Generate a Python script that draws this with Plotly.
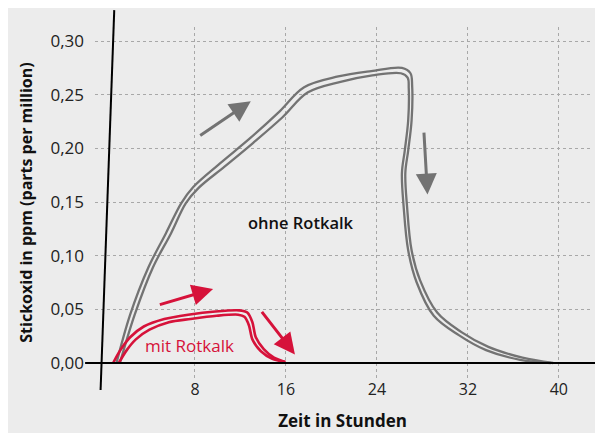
import plotly.graph_objects as go

# --- data (hours, ppm) ---
tick_hours = [8, 16, 24, 32, 40]
tick_ppm = [0.0, 0.05, 0.10, 0.15, 0.20, 0.25, 0.30]

ohne_t_a = [1.1, 2.3, 3.9, 5.45, 6.8, 7.85, 10.2, 12.8, 15.4, 17.6, 20.6, 23.5, 26.2,
            26.95, 27.1, 27.05, 26.75, 26.5, 26.65, 27.05, 27.8, 29.3, 31.4, 33.8, 36.8, 39.5]
ohne_y_a = [0.0, 0.045, 0.089, 0.121, 0.149, 0.164, 0.186, 0.209, 0.234, 0.257, 0.267, 0.272, 0.275,
            0.270, 0.258, 0.226, 0.198, 0.177, 0.146, 0.105, 0.077, 0.047, 0.029, 0.015, 0.005, 0.0]
ohne_t_b = [1.4, 2.7, 4.3, 5.9, 7.2, 8.3, 10.6, 13.1, 15.7, 17.9, 20.8, 23.6, 26.1,
            26.7, 26.8, 26.75, 26.45, 26.2, 26.35, 26.75, 27.5, 29.0, 31.2, 33.6, 36.6, 39.3]
ohne_y_b = [0.0, 0.045, 0.089, 0.121, 0.149, 0.163, 0.183, 0.205, 0.229, 0.252, 0.262, 0.268, 0.270,
            0.266, 0.256, 0.226, 0.198, 0.177, 0.146, 0.105, 0.075, 0.044, 0.026, 0.012, 0.003, 0.0]

mit_t_a = [0.8, 1.5, 2.3, 3.5, 5.3, 7.4, 9.8, 11.9, 12.6, 13.05, 13.35, 14.05, 14.95, 15.95]
mit_y_a = [0.0, 0.013, 0.024, 0.034, 0.041, 0.045, 0.048, 0.049, 0.047, 0.038, 0.024, 0.013, 0.005, 0.001]
mit_t_b = [1.3, 2.0, 2.8, 4.0, 5.7, 7.6, 9.9, 11.8, 12.35, 12.75, 13.05, 13.8, 14.8, 15.95]
mit_y_b = [0.0, 0.012, 0.022, 0.031, 0.038, 0.041, 0.044, 0.045, 0.043, 0.035, 0.022, 0.011, 0.004, 0.001]

# arrows: (tail_t, tail_y, head_t, head_y)
gray_arrows = [(8.33, 0.211, 12.91, 0.244), (28.13, 0.216, 28.45, 0.157)]
red_arrows = [(4.78, 0.054, 9.59, 0.069), (13.78, 0.049, 16.79, 0.008)]

GRAY = "#737373"
RED = "#d6123a"
FONT = "Open Sans"

fig = go.Figure()
for tx, ty in [(ohne_t_a, ohne_y_a), (ohne_t_b, ohne_y_b)]:
    fig.add_trace(go.Scatter(x=tx, y=ty, mode="lines", line=dict(color=GRAY, width=2.3, shape="spline", smoothing=1.0),
                             showlegend=False, hoverinfo="skip"))
for tx, ty in [(mit_t_a, mit_y_a), (mit_t_b, mit_y_b)]:
    fig.add_trace(go.Scatter(x=tx, y=ty, mode="lines", line=dict(color=RED, width=2.6, shape="spline", smoothing=0.8),
                             showlegend=False, hoverinfo="skip"))

annotations = []
for (x0, y0, x1, y1), c in [(a, GRAY) for a in gray_arrows] + [(a, RED) for a in red_arrows]:
    annotations.append(dict(x=x1, y=y1, ax=x0, ay=y0, xref="x", yref="y", axref="x", ayref="y",
                            showarrow=True, arrowhead=2, arrowsize=1.4, arrowwidth=3, arrowcolor=c, text=""))
annotations.append(dict(x=17.3, y=0.131, xref="x", yref="y", text="ohne Rotkalk", showarrow=False,
                        font=dict(family=FONT, size=16.5, color="#111111", weight=600)))
annotations.append(dict(x=7.55, y=0.016, xref="x", yref="y", text="mit Rotkalk", showarrow=False,
                        font=dict(family=FONT, size=17, color=RED)))

fig.update_layout(
    width=603, height=433,
    margin=dict(l=87, r=21, t=19, b=63),
    paper_bgcolor="#ececec", plot_bgcolor="#ececec",
    separators=", ",
    font=dict(family=FONT, color="#222222"),
    annotations=annotations,
    shapes=[
        dict(type="line", xref="x", yref="paper", x0=-0.3, y0=-0.034, x1=0.9, y1=1.048,
             line=dict(color="black", width=2)),
        dict(type="line", xref="paper", yref="y", x0=-0.02, y0=0, x1=1.03, y1=0,
             line=dict(color="black", width=2)),
    ],
)
fig.update_xaxes(range=[-0.7916, 42.74], tickvals=tick_hours, showgrid=True, gridcolor="#a8a8a8",
                 griddash="dot", gridwidth=1, zeroline=False, showline=False, ticks="", automargin=False,
                 tickfont=dict(size=16, color="#222222"),
                 title=dict(text="<b>Zeit in Stunden</b>", font=dict(size=17, color="#111111"), standoff=16))
fig.update_yaxes(range=[-0.01398, 0.3131], tickvals=tick_ppm, tickformat=".2f", showgrid=True,
                 gridcolor="#a8a8a8", griddash="dot", gridwidth=1, zeroline=False, showline=False, ticks="",
                 automargin=False, ticklabelstandoff=10, tickfont=dict(size=17, color="#222222"),
                 title=dict(text="<b>Stickoxid in ppm (parts per million)</b>", font=dict(size=16, color="#111111"),
                            standoff=13))

fig.write_html("out.html")
